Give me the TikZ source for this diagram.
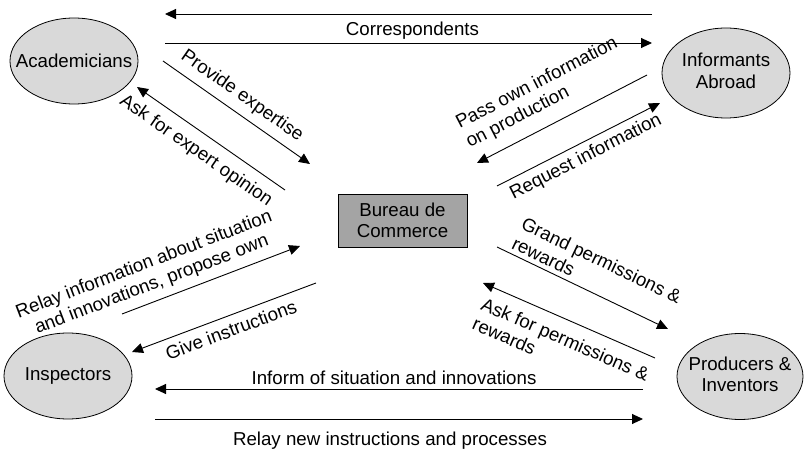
\documentclass[tikz,border=0pt]{standalone}
\usepackage{fontspec}
\setmainfont{Liberation Sans}
\usetikzlibrary{arrows.meta,shapes.geometric}
\definecolor{ellfill}{RGB}{217,217,217}
\definecolor{boxfill}{RGB}{164,164,164}
\begin{document}
\begin{tikzpicture}[x=1pt,y=-1pt,
  font=\fontsize{18.7}{21.5}\selectfont,
  actor/.style={draw, ellipse, fill=ellfill, minimum width=128pt, minimum height=86pt, inner sep=0pt, line width=0.8pt},
  bureau/.style={draw, rectangle, fill=boxfill, minimum width=129pt, minimum height=53pt, inner sep=0pt, align=center, line width=0.9pt},
  flow/.style={-{Triangle[length=11pt,width=10pt]}, line width=0.9pt},
  lbl/.style={inner sep=0pt, anchor=center}]
\useasboundingbox (0,0) rectangle (804,454);

% nodes
\node[actor] (acad) at (74,61) {\makebox[0pt]{Academicians}};
\node[actor, minimum height=90pt] (inf) at (726,73) {\makebox[0pt]{\begin{tabular}{@{}c@{}}Informants\\Abroad\end{tabular}}};
\node[actor] (insp) at (68,376) {\makebox[0pt]{Inspectors}};
\node[actor, minimum width=126pt] (prod) at (740,376.5) {\makebox[0pt]{\begin{tabular}{@{}c@{}}Producers \&\\Inventors\end{tabular}}};
\node[bureau] (bur) at (402.5,220.5) {Bureau de\\Commerce};

% connector end points
\coordinate (corrA) at (652,14);  \coordinate (corrB) at (165,14);
\coordinate (corrC) at (165,43);  \coordinate (corrD) at (652,43);
\coordinate (provA) at (163,61);  \coordinate (provB) at (310,164);
\coordinate (askA) at (285,190);  \coordinate (askB) at (137,87);
\coordinate (passA) at (647,75);  \coordinate (passB) at (477,163);
\coordinate (reqA) at (497,186);  \coordinate (reqB) at (660,103);
\coordinate (relA) at (122,314);  \coordinate (relB) at (300,246);
\coordinate (giveA) at (316,283); \coordinate (giveB) at (132,352);
\coordinate (grA) at (497,247);   \coordinate (grB) at (668,329);
\coordinate (apA) at (655,358);   \coordinate (apB) at (483,283);
\coordinate (infA) at (643,389);  \coordinate (infB) at (155,389);
\coordinate (rnA) at (155,419);   \coordinate (rnB) at (643,419);

% connectors
\draw[flow] (corrA) -- (corrB);
\draw[flow] (corrC) -- (corrD);
\draw[flow] (provA) -- (provB);
\draw[flow] (askA) -- (askB);
\draw[flow] (passA) -- (passB);
\draw[flow] (reqA) -- (reqB);
\draw[flow] (relA) -- (relB);
\draw[flow] (giveA) -- (giveB);
\draw[flow] (grA) -- (grB);
\draw[flow] (apA) -- (apB);
\draw[flow] (infA) -- (infB);
\draw[flow] (rnA) -- (rnB);

% labels
\node[lbl] (lcorr) at (412.5,31) {Correspondents};
\node[lbl, rotate=-35] (lprov) at (242,96) {Provide expertise};
\node[lbl, rotate=-34.8] (lask) at (196,151) {Ask for expert opinion};
\node[lbl, rotate=27.4, align=left] (lpass) at (542,93) {Pass own information\\on production};
\node[lbl, rotate=27] (lreq) at (586,157) {Request information};
\node[lbl, rotate=20.9, align=center] (lrel) at (148,275) {Relay information about situation\\and innovations, propose own};
\node[lbl, rotate=20.6] (lgive) at (231,330) {Give instructions};
\node[lbl, rotate=-25.6, align=left] (lgrand) at (597,270) {Grand permissions \&\\rewards};
\node[lbl, rotate=-23.6, align=left] (laskp) at (561,349) {Ask for permissions \&\\rewards};
\node[lbl] (linf) at (394,378) {Inform of situation and innovations};
\node[lbl] (lrn) at (390,441) {Relay new instructions and processes};
\end{tikzpicture}
\end{document}
